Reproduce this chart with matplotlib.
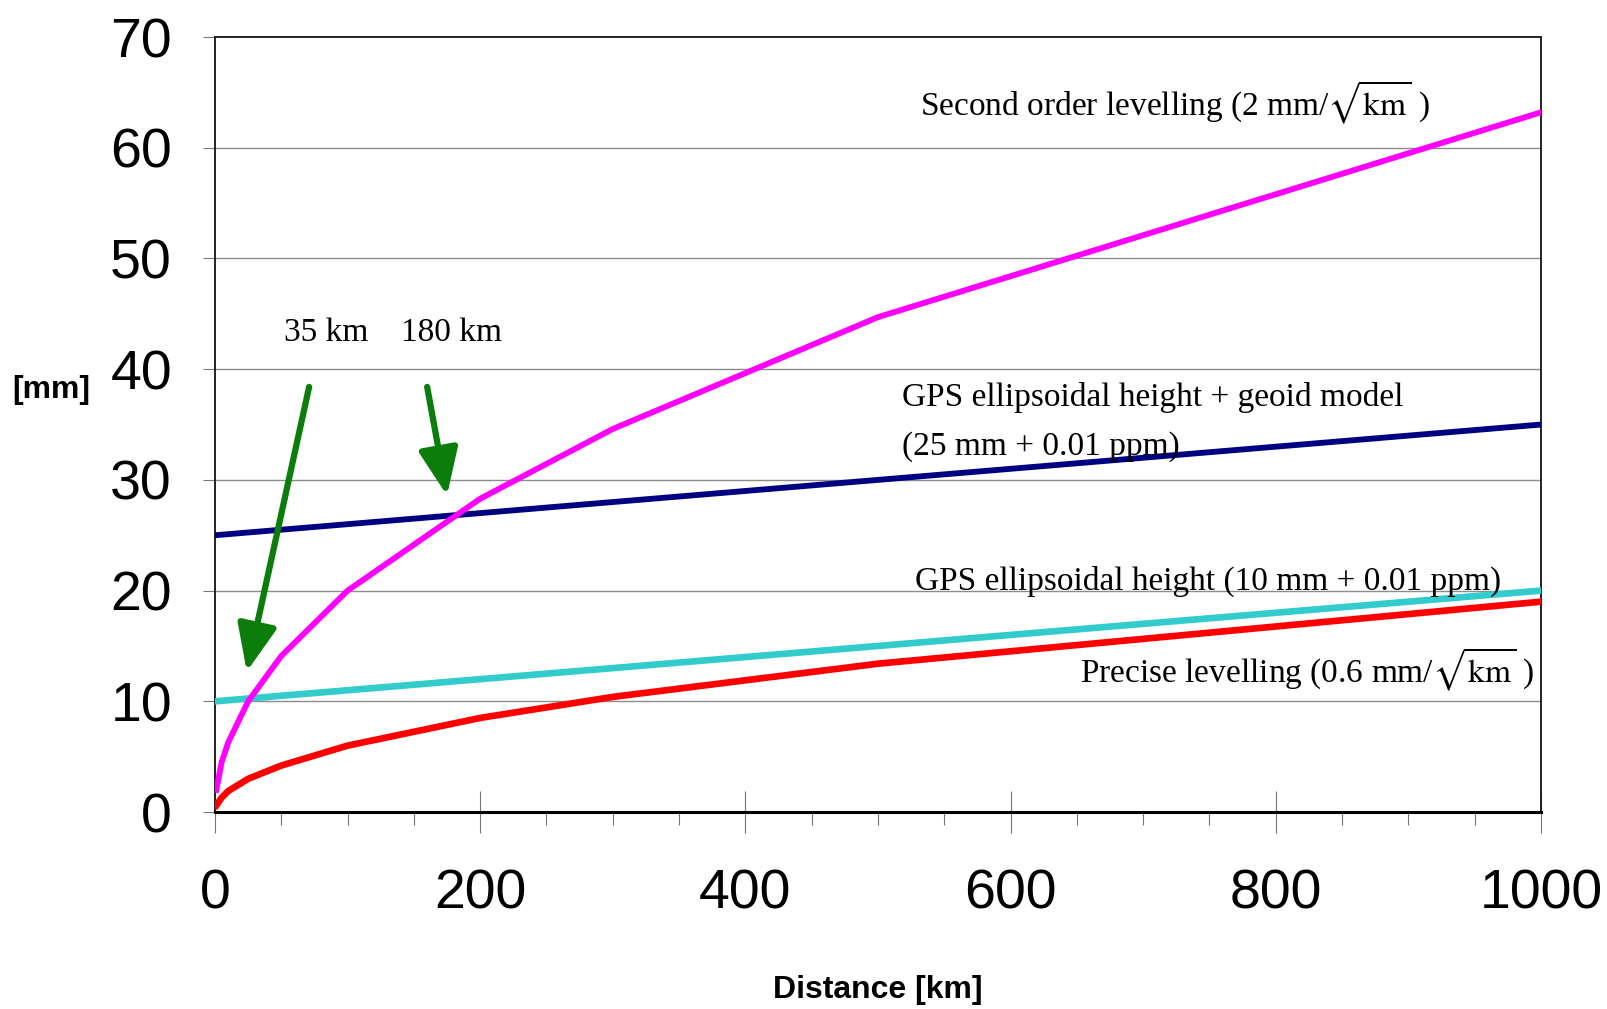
import matplotlib
matplotlib.use("Agg")
import matplotlib.pyplot as plt
from matplotlib.ticker import MultipleLocator

# distances [km] and accuracies [mm]
dist_sqrt = [1, 5, 10, 25, 50, 100, 200, 300, 500, 1000]
second_order = [2.0, 4.5, 6.3, 10.0, 14.1, 20.0, 28.3, 34.6, 44.7, 63.2]
precise = [0.6, 1.3, 1.9, 3.0, 4.2, 6.0, 8.5, 10.4, 13.4, 19.0]

dist_gps = [0, 100, 200, 300, 400, 500, 600, 700, 800, 900, 1000]
gps_geoid = [25.0, 26.0, 27.0, 28.0, 29.0, 30.0, 31.0, 32.0, 33.0, 34.0, 35.0]
gps_ell = [10.0, 11.0, 12.0, 13.0, 14.0, 15.0, 16.0, 17.0, 18.0, 19.0, 20.0]

xticks = [0, 200, 400, 600, 800, 1000]
yticks = [0, 10, 20, 30, 40, 50, 60, 70]

sans = ['Liberation Sans', 'DejaVu Sans']
serif = ['Liberation Serif', 'DejaVu Serif']
plt.rcParams['mathtext.fontset'] = 'stix'

fig = plt.figure(figsize=(16.08, 10.09), dpi=100)
ax = fig.add_axes([0.1337, 0.1952, 0.8246, 0.7681])

ax.set_xlim(0, 1000)
ax.set_ylim(0, 70)

for y in yticks[1:-1]:
    ax.axhline(y, color='#8c8c8c', lw=1.0, zorder=0)

ax.plot(dist_gps, gps_geoid, color='#000080', lw=4.2, zorder=3)
ax.plot(dist_gps, gps_ell, color='#33cccc', lw=4.8, zorder=3)
ax.plot(dist_sqrt, precise, color='#ff0000', lw=4.8, zorder=4)
ax.plot(dist_sqrt, second_order, color='#ff00ff', lw=4.2, zorder=5)

ax.set_xticks(xticks)
ax.set_yticks(yticks)
ax.xaxis.set_minor_locator(MultipleLocator(50))
ax.tick_params(axis='x', which='major', direction='inout', length=30, width=0.8,
               color='#777777', pad=26)
ax.tick_params(axis='x', which='minor', direction='out', length=9, width=0.8,
               color='#777777')
ax.tick_params(axis='y', which='major', direction='out', length=9, width=0.8,
               color='#777777', pad=22)
for lab in ax.get_xticklabels() + ax.get_yticklabels():
    lab.set_family(sans)
    lab.set_fontsize(40)

for side in ['top', 'right', 'left']:
    ax.spines[side].set_linewidth(1.4)
    ax.spines[side].set_color('#222222')
ax.spines['bottom'].set_linewidth(2.2)
ax.spines['bottom'].set_color('black')

fig.text(0.032, 0.613, '[mm]', family=sans, fontweight='bold', fontsize=23,
         ha='center', va='center')
fig.text(0.546, 0.019, 'Distance [km]', family=sans, fontweight='bold',
         fontsize=23, ha='center', va='center')

tfs = 24
ax.text(532, 64.1, r'Second order levelling (2 mm/$\sqrt{\mathrm{km}}$ )',
        family=serif, fontsize=tfs, va='center')
ax.text(518, 37.4, 'GPS ellipsoidal height + geoid model', family=serif,
        fontsize=tfs, va='center')
ax.text(518, 33.0, '(25 mm + 0.01 ppm)', family=serif, fontsize=tfs,
        va='center')
ax.text(528, 20.8, 'GPS ellipsoidal height (10 mm + 0.01 ppm)', family=serif,
        fontsize=tfs, va='center')
ax.text(652, 12.85, r'Precise levelling (0.6 mm/$\sqrt{\mathrm{km}}$ )',
        family=serif, fontsize=tfs, va='center')

ax.text(52, 43.3, '35 km', family=serif, fontsize=tfs, va='center')
ax.text(140, 43.3, '180 km', family=serif, fontsize=tfs, va='center')

arrow = dict(arrowstyle='-|>,head_length=1.3,head_width=0.55', color='#0a7d0a',
             lw=4.5, mutation_scale=22, shrinkA=0, shrinkB=0)
ax.annotate('', xy=(24, 12.7), xytext=(71, 38.4), arrowprops=arrow, zorder=6)
ax.annotate('', xy=(175, 28.6), xytext=(160, 38.4), arrowprops=arrow, zorder=6)

fig.savefig('out.png', dpi=100)
